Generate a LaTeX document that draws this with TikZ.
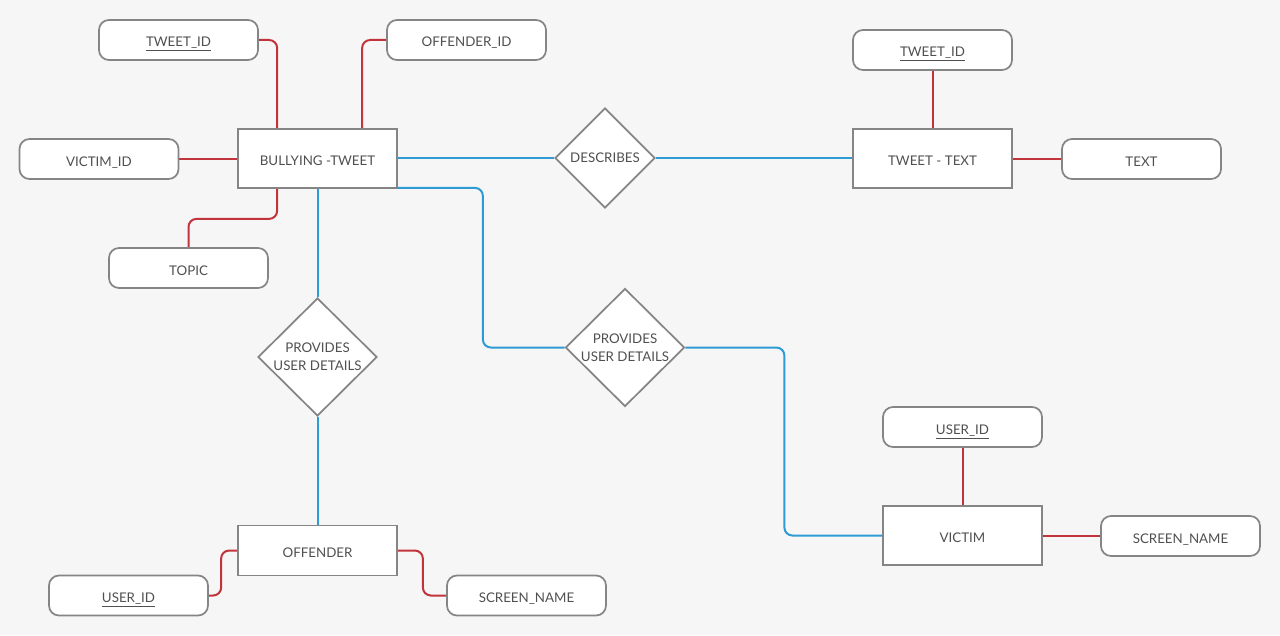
\documentclass[tikz,border=0pt]{standalone}
\usepackage{fontspec}
\setmainfont{Lato}
\usetikzlibrary{shapes.geometric,calc,backgrounds}
\definecolor{bgc}{HTML}{F6F6F6}
\definecolor{edge}{HTML}{858585}
\definecolor{txt}{HTML}{505050}
\definecolor{relred}{HTML}{C2343C}
\definecolor{relblue}{HTML}{2E9AD6}
\begin{document}
\begin{tikzpicture}[x=0.75pt,y=-0.75pt,
  every node/.style={font=\fontsize{10}{13.5}\selectfont, text=txt},
  entity/.style={draw=edge, line width=1.3pt, fill=white, minimum width=159*0.75pt, minimum height=59*0.75pt, inner sep=0pt, text height=10.5pt, text depth=0pt},
  attr/.style={draw=edge, line width=1.3pt, fill=white, rounded corners=7.5pt, minimum width=159*0.75pt, minimum height=40*0.75pt, inner sep=0pt, text height=10.5pt, text depth=0pt},
  rel/.style={draw=edge, line width=1.3pt, fill=white, diamond, inner sep=0pt, align=center},
  redl/.style={draw=relred, line width=1.5pt, rounded corners=6pt},
  bluel/.style={draw=relblue, line width=1.5pt, rounded corners=6pt}
]
\node[entity] (bt) at (317.5,158.5) {BULLYING -TWEET};
\node[attr] (tid1) at (178.5,40) {\underline{TWEET\_ID}};
\node[attr] (oid) at (466.5,40) {OFFENDER\_ID};
\node[attr] (vid) at (99,159) {VICTIM\_ID};
\node[attr] (topic) at (188.5,268) {TOPIC};
\node[rel, minimum width=100*0.75pt, minimum height=100*0.75pt] (desc) at (605,158) {\makebox[0pt]{DESCRIBES}};
\node[entity] (tt) at (932.5,158.5) {TWEET - TEXT};
\node[attr] (tid2) at (932.5,50) {\underline{TWEET\_ID}};
\node[attr] (text) at (1141.5,159) {TEXT};
\node[rel, minimum width=119*0.75pt, minimum height=118*0.75pt] (d1) at (317.5,357) {\makebox[0pt]{PROVIDES}\\\makebox[0pt]{USER DETAILS}};
\node[rel, minimum width=119*0.75pt, minimum height=118*0.75pt] (d2) at (625,347.5) {\makebox[0pt]{PROVIDES}\\\makebox[0pt]{USER DETAILS}};
\node[entity, minimum height=50*0.75pt] (off) at (317.5,550.5) {OFFENDER};
\node[attr] (uid1) at (128.5,595.5) {\underline{USER\_ID}};
\node[attr] (sn1) at (526.5,595.5) {SCREEN\_NAME};
\node[entity] (vic) at (962.5,535.5) {VICTIM};
\node[attr] (uid2) at (962.5,427) {\underline{USER\_ID}};
\node[attr] (sn2) at (1180.5,536) {SCREEN\_NAME};

\begin{scope}[on background layer]
\fill[bgc] (0,0) rectangle (1280,635);
% red attribute links
\draw[redl] (tid1.east) -| ($(bt.north west)+(40,0)$);
\draw[redl] (oid.west) -| ($(bt.north west)+(125,0)$);
\draw[redl] (vid.east) -- (bt.west |- vid.east);
\draw[redl] ($(bt.south west)+(40,0)$) -- ++(0,30) -| (topic.north);
\draw[redl] (tid2.south) -- (tt.north);
\draw[redl] (tt.east |- text.west) -- (text.west);
\draw[redl] (off.west) -- ++(-16,0) |- (uid1.east);
\draw[redl] (off.east) -- ++(25,0) |- (sn1.west);
\draw[redl] (uid2.south) -- (vic.north);
\draw[redl] (vic.east |- sn2.west) -- (sn2.west);
% blue relationship links
\draw[bluel] (bt.east |- desc.west) -- (desc.west);
\draw[bluel] (desc.east) -- (tt.west |- desc.east);
\draw[bluel] (bt.south) -- (d1.north);
\draw[bluel] (d1.south) -- (off.north);
\draw[bluel] ($(bt.south east)+(0,-1)$) -- ++(85,0) |- (d2.west);
\draw[bluel] (d2.east) -- ++(99,0) |- (vic.west);
\end{scope}
\useasboundingbox (0,0) rectangle (1280,635);
\end{tikzpicture}
\end{document}
